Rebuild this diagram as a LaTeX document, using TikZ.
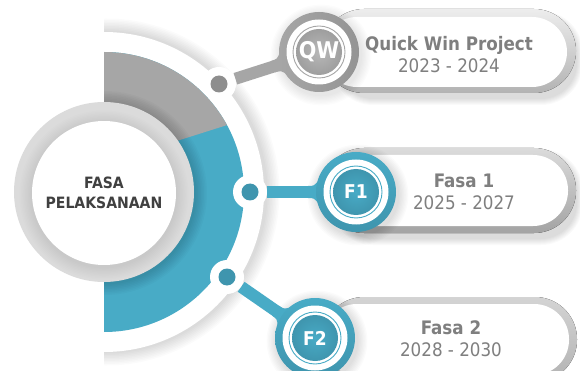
\documentclass[tikz,border=0pt]{standalone}
\usepackage{fontspec}
\setmainfont{DejaVu Sans Condensed}
\pgfdeclarelayer{bg}\pgfdeclarelayer{conn}
\pgfsetlayers{bg,conn,main}
\definecolor{tealc}{HTML}{48ABC6}
\definecolor{teald}{HTML}{3F95AE}
\definecolor{grayc}{HTML}{A6A6A6}
\definecolor{grayd}{HTML}{8E8E8E}
\definecolor{txtg}{HTML}{7F7F7F}
\definecolor{txtd}{HTML}{404040}
\newcommand{\softcirc}[4]{\foreach \i in {1,...,8}{\fill[black,opacity=#4] (#1,#2) circle[radius=#3+\i*1.3];}}
\newcommand{\softpill}[4]{\foreach \i in {1,...,7}{\fill[black,opacity=.018,rounded corners=35+\i] (#1-\i,#2-\i) rectangle (#3+\i,#4+\i);}}
\newcommand{\flare}[4]{\fill[#4,shift={(#1,#2)},rotate=#3] (-48,-6) .. controls (-42,-6) .. (-37,-12) -- (-37,12) .. controls (-42,6) .. (-48,6) -- cycle;}
\tikzset{
  x=1pt,y=-1pt,
  dotwhite/.style={circle,fill=white,inner sep=0,minimum size=34pt},
  dotcore/.style={circle,inner sep=0,minimum size=17pt},
  link/.style={line width=12pt},
  badge/.style={circle,inner sep=0,minimum size=80pt},
  badgewhite/.style={circle,fill=white,inner sep=0,minimum size=65pt},
  badgering/.style={circle,fill=white,draw=#1,line width=.9pt,inner sep=0,minimum size=52pt},
  badgecore/.style={circle,inner sep=0,minimum size=46pt,text=white,font=\bfseries\fontsize{19}{21}\selectfont},
  pilltext/.style={align=center,text=txtg,inner sep=0,font=\fontsize{18.6}{22}\selectfont},
}
\begin{document}
\begin{tikzpicture}
\useasboundingbox (0,0) rectangle (580,371);
\begin{pgfonlayer}{bg}
  \fill[white] (0,0) rectangle (580,371);
  % pills
  \softpill{338}{18}{576}{98}
  \fill[rounded corners=42,top color=black!7,bottom color=black!30] (322,9) rectangle (576,93);
  \fill[white,rounded corners=35] (322,17) rectangle (567,87);
  \softpill{338}{156}{576}{238}
  \fill[rounded corners=42,top color=black!14,bottom color=black!36] (322,148) rectangle (576,233);
  \fill[white,rounded corners=35] (322,155) rectangle (568,226);
  \fill[rounded corners=42,top color=black!17,bottom color=black!30] (322,297) rectangle (577,382);
  \fill[white,rounded corners=35] (322,304) rectangle (569,375);
  % sector with its white band
  \begin{scope}
    \clip (104,0) rectangle (300,371);
    \foreach \i in {1,...,9}{\fill[black,opacity=.014] (106,192) circle[radius=160+\i*1.5];}
    \fill[white] (104,192) circle[radius=160];
    \fill[tealc] (104,192) circle[radius=140];
    \begin{scope}
      \clip (104,192) circle[radius=140];
      \fill[grayc] (104,0) -- (300,0) -- (300,102) -- (104,164) -- cycle;
    \end{scope}
    \foreach \i in {1,...,8}{\fill[black,opacity=.018] (105,193) circle[radius=90+\i*1.5];}
  \end{scope}
  \fill[black!14] (104,192) circle[radius=90];
  \foreach \i in {1,...,9}{\fill[black,opacity=.007] (104,195) circle[radius=72+\i*1.4];}
  \softcirc{321}{55}{40}{.012}
  \softcirc{358}{195}{40}{.015}
  \softcirc{317}{341}{40}{.015}
\end{pgfonlayer}
% hub
\node[circle,fill=white,inner sep=0,minimum size=144pt,align=center,text=txtd,
      font=\bfseries\fontsize{15.6}{19.5}\selectfont] (hub) at (104,193) {FASA\\PELAKSANAAN};
% dots
\node[dotwhite] (dq) at (219,84) {};
\node[dotcore,fill=grayd] (dqc) at (219,84) {};
\node[dotwhite] (d1) at (250,192) {};
\node[dotcore,fill=teald] (d1c) at (250,192) {};
\node[dotwhite] (d2) at (227,277) {};
\node[dotcore,fill=teald] (d2c) at (227,277) {};
% badge QW
\node[badge,left color=grayc,right color=black!42] (q) at (319,52) {};
\node[badgewhite] (qw) at (319,52) {};
\node[badgering=grayc] (qr) at (319,52) {};
\node[badgecore,inner color=black!28,outer color=black!38,font=\bfseries\fontsize{23}{25}\selectfont] (qc) at (319,52) {QW};
% badge F1
\node[badge,top color=tealc,bottom color=teald] (f1) at (356,192) {};
\node[badgewhite] (f1w) at (356,192) {};
\node[badgering=tealc] (f1r) at (356,192) {};
\node[badgecore,inner color=tealc,outer color=teald] (f1c) at (356,192) {F1};
% badge F2
\node[badge,top color=tealc,bottom color=teald] (f2) at (315,338) {};
\node[badgewhite] (f2w) at (315,338) {};
\node[badgering=tealc] (f2r) at (315,338) {};
\node[badgecore,inner color=tealc,outer color=teald] (f2c) at (315,338) {F2};
% connectors
\begin{pgfonlayer}{conn}
  \draw[link,grayc] (dq) -- (q);
  \draw[link,tealc] (d1) -- (f1);
  \draw[link,tealc] (d2) -- (f2);
  \flare{319}{52}{17.7}{grayc}
  \flare{356}{192}{0}{tealc}
  \flare{315}{338}{-34.7}{tealc}
\end{pgfonlayer}
% labels
\node[pilltext] (tq) at (449,55) {\textbf{Quick Win Project}\\2023 - 2024};
\node[pilltext] (t1) at (464,192) {\textbf{Fasa 1}\\2025 - 2027};
\node[pilltext] (t2) at (451,339) {\textbf{Fasa 2}\\2028 - 2030};
\end{tikzpicture}
\end{document}
